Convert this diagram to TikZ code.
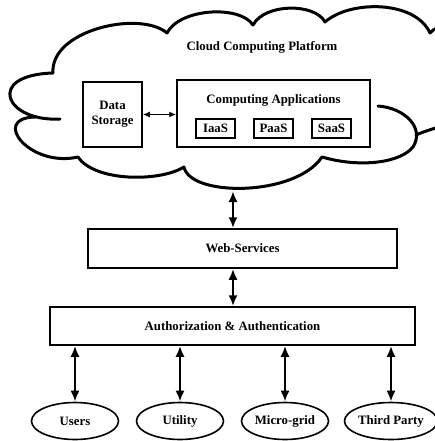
\documentclass[tikz,border=0pt]{standalone}
\usepackage{fontspec}
\setmainfont{Liberation Serif}
\usetikzlibrary{arrows.meta,shapes.geometric,calc}
\begin{document}
\begin{tikzpicture}[x=1pt,y=-1pt,
  txt/.style={font=\fontsize{12.8}{14}\selectfont\bfseries, inner sep=0pt, align=center},
  box/.style={draw, line width=1.5pt, inner sep=0pt, font=\fontsize{12.8}{14}\selectfont\bfseries, align=center},
  oval/.style={draw, ellipse, line width=1.6pt, inner sep=0pt, minimum width=87pt, minimum height=37pt, font=\fontsize{12.8}{14}\selectfont\bfseries},
  dbl/.style={line width=2.3pt, {Latex[length=11pt,width=9pt]}-{Latex[length=11pt,width=9pt]}},
  sdbl/.style={line width=1.3pt, {Latex[length=7pt,width=6pt]}-{Latex[length=7pt,width=6pt]}},
  cloudline/.style={line width=3pt, line cap=round, line join=round}]
\useasboundingbox (0,0) rectangle (435,441);
\clip (0,0) rectangle (435,441);
% cloud
\draw[cloudline] (60,119) .. controls (5,122) and (-15,75) .. (53,73)
  .. controls (50,30) and (140,10) .. (167,33)
  .. controls (180,8) and (240,5) .. (253,25)
  .. controls (265,3) and (315,3) .. (325,22)
  .. controls (350,0) and (415,0) .. (430,33)
  .. controls (445,15) and (500,30) .. (490,90)
  .. controls (485,122) and (445,122) .. (416,135);
\draw[cloudline] (378,106) .. controls (405,108) and (425,128) .. (413,147)
  .. controls (400,163) and (360,168) .. (322,157)
  .. controls (295,197) and (190,197) .. (184,167)
  .. controls (160,182) and (95,182) .. (78,157)
  .. controls (30,168) and (-10,118) .. (35,117);
\coordinate (cloudbot) at (233,191);
\node[txt] (title) at (262,47) {Cloud Computing Platform};
% inner boxes
\node[box, minimum width=59pt, minimum height=65pt] (ds) at (112.5,114.5) {Data\\[1pt]Storage};
\node[box, minimum width=193pt, minimum height=67pt] (ca) at (273.5,113.5) {};
\node[txt] (catext) at (273.5,100) {Computing Applications};
\node[box, minimum width=39pt, minimum height=19pt] (iaas) at (215.5,128.5) {IaaS};
\node[box, minimum width=39pt, minimum height=19pt] (paas) at (273.5,128.5) {PaaS};
\node[box, minimum width=39pt, minimum height=19pt] (saas) at (331.5,128.5) {SaaS};
\draw[sdbl] (ds.east) -- (ds.east -| ca.west);
% layers
\node[box, minimum width=309pt, minimum height=39pt] (web) at (242.5,248.5) {Web-Services};
\node[box, minimum width=365pt, minimum height=38pt] (auth) at (232.5,326) {Authorization \& Authentication};
\draw[dbl] (cloudbot) -- (cloudbot |- web.north);
\draw[dbl] (web.south -| cloudbot) -- (auth.north -| cloudbot);
% clients
\node[oval] (users) at (75,421) {Users};
\node[oval] (util) at (180,421) {Utility};
\node[oval] (mg) at (285,421) {Micro-grid};
\node[oval] (tp) at (391,421) {Third Party};
\foreach \n in {users,util,mg,tp}{
  \draw[dbl] (auth.south -| \n.north) -- (\n.north);
}
\end{tikzpicture}
\end{document}
